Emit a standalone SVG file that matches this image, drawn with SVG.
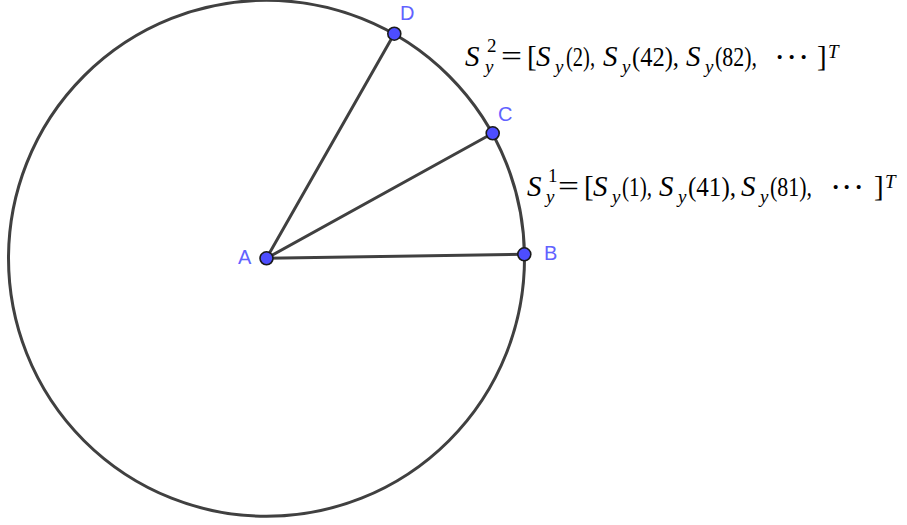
<svg xmlns="http://www.w3.org/2000/svg" width="907" height="525" viewBox="0 0 907 525">
<style>
.edge{stroke:#404040;stroke-width:3;fill:none;stroke-linecap:round}
.pt{fill:#4d4dff;stroke:#1a1a1a;stroke-width:1.6}
.lbl{font-family:"Liberation Sans",Arial,sans-serif;font-size:20px;fill:#6262ff}
.m{font-family:"Liberation Serif","Times New Roman",serif;font-size:29px;fill:#000}
.i{font-style:italic}
.s{font-size:19px}
.n{font-size:27px}
.d{font-size:34px}
</style>
<rect width="907" height="525" fill="#fff"/>
<g id="connectors">
<circle class="edge" cx="266.5" cy="258.3" r="258"/>
<line class="edge" x1="266.5" y1="258.3" x2="524.3" y2="254.3"/>
<line class="edge" x1="266.5" y1="258.3" x2="492.7" y2="133.3"/>
<line class="edge" x1="266.5" y1="258.3" x2="394.3" y2="33.7"/>
</g>
<g id="A"><circle class="pt" cx="266.5" cy="258.3" r="6.5"/><text class="lbl" x="238" y="264">A</text></g>
<g id="B"><circle class="pt" cx="524.3" cy="254.3" r="6.5"/><text class="lbl" x="544" y="260">B</text></g>
<g id="C"><circle class="pt" cx="492.7" cy="133.3" r="6.5"/><text class="lbl" x="498" y="121">C</text></g>
<g id="D"><circle class="pt" cx="394.3" cy="33.7" r="6.5"/><text class="lbl" x="400" y="20">D</text></g>
<g id="label-S2" class="m">
<text x="465" y="66" class="i">S</text>
<text x="487" y="52" class="s">2</text>
<text x="485" y="73" class="s i">y</text>
<text x="501" y="66" textLength="21" lengthAdjust="spacingAndGlyphs">=</text>
<text x="527" y="66">[</text>
<text x="536" y="66" class="i">S</text>
<text x="555" y="73" class="s i">y</text>
<text x="566" y="66" class="n" textLength="29" lengthAdjust="spacingAndGlyphs">(2),</text>
<text x="603" y="66" class="i">S</text>
<text x="622" y="73" class="s i">y</text>
<text x="632" y="66" class="n" textLength="47" lengthAdjust="spacingAndGlyphs">(42),</text>
<text x="686" y="66" class="i">S</text>
<text x="705" y="73" class="s i">y</text>
<text x="715" y="66" class="n" textLength="42" lengthAdjust="spacingAndGlyphs">(82),</text>
<text x="774 786 798" y="68" class="d">···</text>
<text x="817" y="66">]</text>
<text x="828" y="58" class="s i">T</text>
</g>
<g id="label-S1" class="m">
<text x="527" y="196" class="i">S</text>
<text x="548" y="182" class="s">1</text>
<text x="546" y="203" class="s i">y</text>
<text x="558" y="196" textLength="21" lengthAdjust="spacingAndGlyphs">=</text>
<text x="584" y="196">[</text>
<text x="593" y="196" class="i">S</text>
<text x="612" y="203" class="s i">y</text>
<text x="622" y="196" class="n" textLength="30" lengthAdjust="spacingAndGlyphs">(1),</text>
<text x="659" y="196" class="i">S</text>
<text x="678" y="203" class="s i">y</text>
<text x="688" y="196" class="n" textLength="48" lengthAdjust="spacingAndGlyphs">(41),</text>
<text x="741" y="196" class="i">S</text>
<text x="760" y="203" class="s i">y</text>
<text x="770" y="196" class="n" textLength="42" lengthAdjust="spacingAndGlyphs">(81),</text>
<text x="830 841 853" y="198" class="d">···</text>
<text x="874" y="196">]</text>
<text x="885" y="188" class="s i">T</text>
</g>
</svg>
